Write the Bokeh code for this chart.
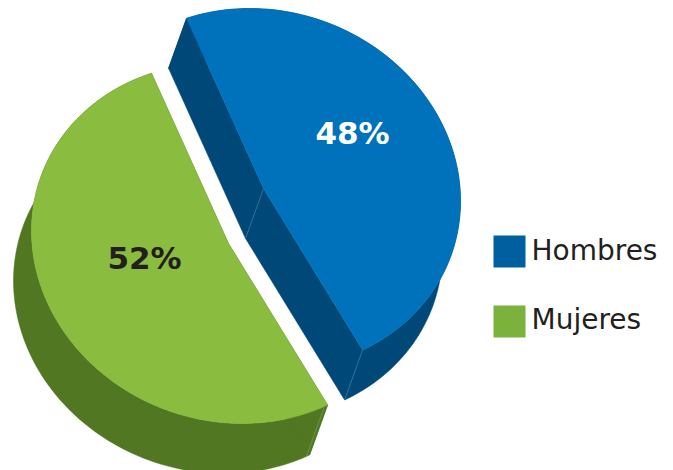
import numpy as np
from bokeh.plotting import figure
from bokeh.models import Range1d
from bokeh.core.properties import value
from bokeh.embed import file_html
from bokeh.resources import INLINE

categories = ["Hombres", "Mujeres"]
shares = [48, 52]
labels = ["48%", "52%"]
top_colors = ["#0072BC", "#8ABD3F"]
side_colors = ["#004877", "#527723"]
swatch_colors = ["#005F9F", "#7AB23B"]
label_colors = ["#FFFFFF", "#231F20"]
centers = [(263, 188), (228, 243)]

RX, RY = 197, 180
DX, DY = -18, 50
START = -113
TILT = 4

W, H = 673, 470
p = figure(width=W, height=H, x_range=Range1d(0, W), y_range=Range1d(H, 0),
           output_backend="svg", toolbar_location=None, min_border=0)
p.axis.visible = False
p.grid.visible = False
p.outline_line_color = None
p.background_fill_color = None
p.border_fill_color = None


def arc(c, a0, a1):
    t = np.radians(np.linspace(a0, a1, 160))
    return c[0] + RX * np.cos(t), c[1] + RY * np.sin(t + np.radians(TILT))


angle = START
order = []
for share, c, top, side in zip(shares, centers, top_colors, side_colors):
    a1 = angle + 360.0 * share / sum(shares)
    order.append((c, angle, a1, top, side))
    angle = a1

for c, a0, a1, top, side in order:
    x, y = arc(c, a0, a1)
    # outer wall
    p.patch(np.r_[x, x[::-1] + DX], np.r_[y, y[::-1] + DY], fill_color=side, line_color=side, line_width=0.5)
    # cut faces
    for ex, ey in ((x[0], y[0]), (x[-1], y[-1])):
        p.patch([c[0], ex, ex + DX, c[0] + DX], [c[1], ey, ey + DY, c[1] + DY],
                fill_color=side, line_color=side, line_width=0.5)

for (c, a0, a1, top, side) in order:
    x, y = arc(c, a0, a1)
    p.patch(np.r_[c[0], x], np.r_[c[1], y], fill_color=top, line_color=top, line_width=0.5)

# thin light seams on the vertical edges
c, a0, a1, top, side = order[0]
x, y = arc(c, a0, a1)
p.line([c[0], c[0] + DX], [c[1], c[1] + DY], line_color="#3F7BA6", line_width=0.7)
p.line([x[-1], x[-1] + DX], [y[-1], y[-1] + DY], line_color="#3F7BA6", line_width=0.7)
c, a0, a1, top, side = order[1]
x, y = arc(c, a0, a1)
p.line([x[0] - 3, x[0] - 3 + DX], [y[0] + 1, y[0] + 1 + DY], line_color="#7B9F55", line_width=0.7)

# percentage labels
p.text(x=[352, 144], y=[132, 257], text=labels, text_color=label_colors,
       text_font=value("DejaVu Sans"), text_font_style="bold", text_font_size="31px",
       text_align="center", text_baseline="middle")

# legend
p.rect(x=[509, 509], y=[251, 321], width=32, height=32, fill_color=swatch_colors, line_color=None)
p.text(x=[531, 531], y=[250, 319], text=categories, text_color="#231F20",
       text_font=value("DejaVu Sans"), text_font_size="28px",
       text_align="left", text_baseline="middle")

open("out.html", "w").write(file_html(p, INLINE))
